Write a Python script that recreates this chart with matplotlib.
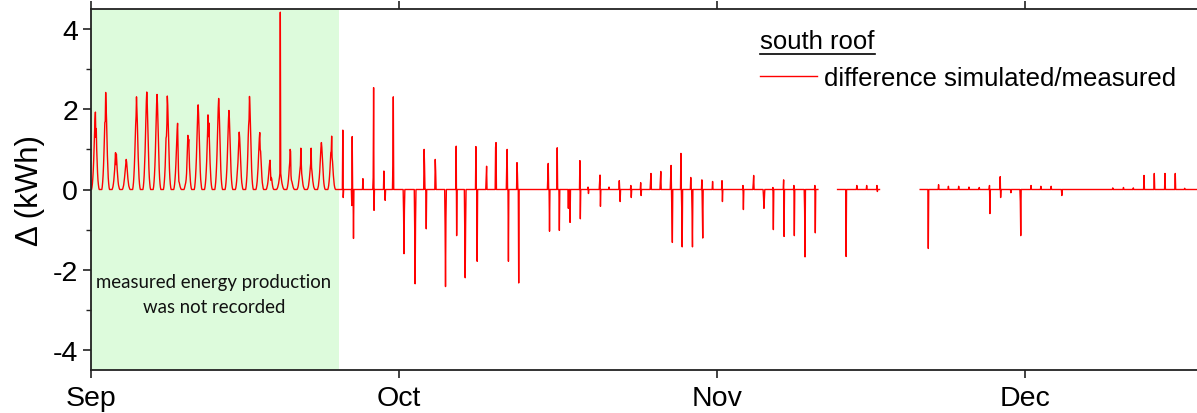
import numpy as np
import pandas as pd
import matplotlib
matplotlib.use("Agg")
import matplotlib.pyplot as plt
import matplotlib.dates as mdates
from matplotlib.lines import Line2D
from matplotlib.ticker import MultipleLocator

# ---------------- data ----------------
start_date = "2015-09-01"
n_days = 108
# hourly values from 02:00 to 20:00 for the first 24 days (Sep 1 - Sep 24)
bell_first_hour = 2
bell_days = [
    [0, 0.06, 0.15, 0.29, 0.48, 0.73, 1.06, 1.45, 1.74, 1.93, 1.30, 1.52, 1.00, 0.68, 0.42, 0.23, 0.12, 0.04, 0],
    [0, 0.07, 0.19, 0.36, 0.60, 0.92, 1.33, 1.67, 1.70, 2.42, 2.10, 1.74, 1.26, 0.85, 0.53, 0.29, 0.15, 0.05, 0],
    [0, 0.03, 0.07, 0.14, 0.23, 0.35, 0.50, 0.69, 0.92, 0.62, 0.88, 0.66, 0.48, 0.32, 0.20, 0.11, 0.06, 0.02, 0],
    [0, 0.02, 0.06, 0.11, 0.19, 0.29, 0.41, 0.56, 0.68, 0.75, 0.68, 0.54, 0.39, 0.26, 0.17, 0.09, 0.05, 0.02, 0],
    [0, 0.07, 0.18, 0.35, 0.58, 0.88, 1.27, 1.60, 1.83, 2.31, 2.00, 1.66, 1.20, 0.81, 0.51, 0.28, 0.14, 0.05, 0],
    [0, 0.07, 0.19, 0.36, 0.61, 0.92, 1.34, 1.82, 2.19, 2.43, 2.19, 1.75, 1.26, 0.85, 0.53, 0.29, 0.15, 0.05, 0],
    [0, 0.07, 0.19, 0.36, 0.59, 0.90, 1.30, 1.78, 2.13, 2.37, 2.13, 1.71, 1.23, 0.83, 0.52, 0.28, 0.14, 0.05, 0],
    [0, 0.07, 0.19, 0.35, 0.58, 0.89, 1.28, 1.33, 1.63, 2.33, 2.10, 1.68, 1.21, 0.82, 0.51, 0.28, 0.14, 0.05, 0],
    [0, 0.05, 0.13, 0.25, 0.41, 0.63, 0.91, 1.24, 1.49, 1.65, 1.10, 0.50, 0.20, 0.17, 0.12, 0.07, 0.04, 0.01, 0],
    [0, 0.03, 0.08, 0.12, 0.17, 0.25, 0.40, 0.70, 1.00, 1.35, 1.10, 1.25, 0.85, 0.55, 0.35, 0.20, 0.10, 0.03, 0],
    [0, 0.06, 0.17, 0.32, 0.53, 0.80, 1.16, 1.58, 1.90, 2.11, 1.90, 1.52, 1.10, 0.74, 0.46, 0.25, 0.13, 0.04, 0],
    [0, 0.06, 0.15, 0.28, 0.47, 0.71, 1.02, 1.40, 1.86, 1.32, 1.66, 1.30, 0.95, 0.65, 0.41, 0.22, 0.11, 0.04, 0],
    [0, 0.07, 0.18, 0.34, 0.57, 0.86, 1.25, 1.70, 2.04, 2.27, 2.04, 1.63, 1.18, 0.79, 0.50, 0.27, 0.14, 0.05, 0],
    [0, 0.06, 0.16, 0.30, 0.49, 0.75, 1.08, 1.48, 1.77, 1.97, 1.77, 1.42, 1.02, 0.69, 0.43, 0.24, 0.12, 0.04, 0],
    [0, 0.04, 0.11, 0.21, 0.36, 0.54, 0.67, 0.97, 1.20, 1.43, 1.29, 1.03, 0.74, 0.50, 0.31, 0.17, 0.09, 0.03, 0],
    [0, 0.07, 0.19, 0.35, 0.58, 0.88, 1.30, 1.60, 1.75, 2.32, 2.09, 1.67, 1.21, 0.81, 0.51, 0.28, 0.14, 0.05, 0],
    [0, 0.04, 0.11, 0.21, 0.36, 0.54, 0.78, 1.07, 1.28, 1.42, 1.00, 0.95, 0.74, 0.50, 0.31, 0.17, 0.09, 0.03, 0],
    [0, 0.02, 0.06, 0.11, 0.18, 0.28, 0.40, 0.55, 0.66, 0.73, 0.45, 0.23, 0.30, 0.26, 0.16, 0.09, 0.04, 0.01, 0],
    [0, 0.01, 0.03, 0.06, 0.10, 0.15, 0.22, 0.30, 0.40, 4.42, 0.40, 0.30, 0.22, 0.15, 0.10, 0.06, 0.03, 0.01, 0],
    [0, 0.03, 0.08, 0.15, 0.25, 0.38, 0.55, 0.67, 1.00, 0.95, 0.35, 0.23, 0.20, 0.15, 0.10, 0.06, 0.03, 0.01, 0],
    [0, 0.02, 0.05, 0.10, 0.18, 0.28, 0.40, 0.50, 0.60, 1.03, 0.65, 0.40, 0.30, 0.20, 0.12, 0.07, 0.04, 0.01, 0],
    [0, 0.02, 0.05, 0.10, 0.18, 0.28, 0.40, 0.55, 0.65, 1.03, 0.55, 0.45, 0.32, 0.21, 0.13, 0.07, 0.04, 0.01, 0],
    [0, 0.04, 0.09, 0.18, 0.29, 0.44, 0.64, 0.88, 1.05, 1.17, 1.05, 0.84, 0.61, 0.41, 0.26, 0.14, 0.07, 0.02, 0],
    [0, 0.04, 0.10, 0.20, 0.33, 0.50, 0.73, 0.92, 0.95, 1.33, 0.80, 0.70, 0.52, 0.35, 0.22, 0.12, 0.06, 0.02, 0],
]
# individual hourly differences after Sep 25 (day offset since Sep 1, kWh)
spike_day = [
    24.54, 24.60, 25.41, 25.47, 25.57, 26.48, 27.48, 27.52, 27.59, 28.56, 28.66,
    29.42, 29.46, 30.47, 30.51, 30.55, 31.54, 31.58, 31.62, 32.45, 32.49, 32.65,
    33.53, 33.57, 34.49, 34.53, 34.57, 35.57, 35.64, 36.41, 36.45, 36.49,
    37.52, 37.64, 38.52, 38.56, 39.42, 39.46, 40.52, 40.56, 40.66,
    41.48, 41.52, 41.67, 44.52, 44.56, 44.65, 45.43, 45.63, 46.50, 46.67,
    47.64, 47.68, 48.40, 48.45, 49.55, 49.59, 49.64, 50.46, 51.47, 51.54,
    52.57, 52.61, 53.55, 53.60, 54.52, 54.56, 55.46, 55.50,
    56.44, 56.48, 56.59, 56.63, 57.45, 57.56, 57.60, 58.42, 58.54, 58.58,
    59.49, 59.55, 59.59, 60.56, 61.44, 61.49, 63.49, 63.53, 64.48, 64.52,
    65.52, 65.56, 65.60, 66.43, 66.47, 67.44, 67.48, 68.44, 68.48,
    69.51, 69.55, 70.48, 70.52, 73.55, 74.59, 75.56, 76.54, 76.58,
    81.56, 82.53, 83.50, 84.48, 85.52, 86.52, 87.52, 87.56, 88.54, 88.60,
    89.58, 90.51, 90.55, 91.53, 92.50, 93.48, 94.55, 99.50, 100.55, 101.52,
    102.56, 103.56, 104.58, 105.58, 106.50,
]
spike_value = [
    1.48, -0.20, -0.40, 1.32, -1.22, 0.27, 0.30, 2.54, -0.52, 0.46, -0.27,
    0.60, 2.31, -0.58, -1.60, -0.50, -1.00, -2.35, -0.80, 1.00, 0.60, -0.98,
    0.75, 0.45, -0.90, -2.42, -0.70, 1.08, -1.15, -1.00, -2.20, -0.90,
    1.07, -1.79, 0.30, 0.58, 1.05, 1.17, 0.60, 1.00, -1.79,
    0.67, 0.40, -2.33, 0.30, 0.65, -1.04, 1.04, -1.02, -0.47, -0.82,
    0.72, -0.73, 0.06, -0.10, 0.20, 0.36, -0.42, 0.06, 0.22, -0.30,
    0.10, -0.20, 0.17, -0.15, 0.20, 0.40, 0.20, 0.45,
    0.30, 0.60, -0.50, -1.32, 0.90, -0.55, -1.43, 0.30, -0.55, -1.43,
    0.24, -0.50, -1.21, 0.20, 0.22, -0.30, 0.10, -0.50, 0.15, 0.35,
    -0.20, -0.47, -0.20, 0.05, -1.00, 0.24, -1.17, 0.10, -1.15,
    -0.50, -1.68, 0.10, -1.08, -1.67, 0.10, 0.10, 0.10, -0.05,
    -1.47, 0.12, 0.08, 0.08, 0.06, 0.05, 0.10, -0.60, 0.32, -0.20,
    -0.08, -0.30, -1.15, 0.10, 0.08, 0.08, -0.15, 0.04, 0.05, 0.04,
    0.35, 0.40, 0.40, 0.40, 0.03,
]
# missing data periods (day offsets since Sep 1)
gap_start_day = [70.85, 76.85]
gap_end_day = [72.70, 80.75]
# period without measured production (green area)
unrecorded_end_day = 24.15

series_label = "difference simulated/measured"
legend_title = "south roof"
note_text = "measured energy production\nwas not recorded"

# ---------------- build hourly series ----------------
t0 = pd.Timestamp(start_date)
times = pd.date_range(t0, periods=n_days * 24, freq="h")
vals = np.zeros(len(times))
for k, day_vals in enumerate(bell_days):
    for j, v in enumerate(day_vals):
        vals[k * 24 + bell_first_hour + j] = v
used = set()
for d, v in zip(spike_day, spike_value):
    idx = int(round(d * 24))
    while idx in used:
        idx += 1
    used.add(idx)
    vals[idx] = v
for gs, ge in zip(gap_start_day, gap_end_day):
    vals[int(round(gs * 24)):int(round(ge * 24))] = np.nan

# ---------------- plot ----------------
plt.rcParams["font.family"] = ["Liberation Sans", "DejaVu Sans"]
plt.rcParams["axes.unicode_minus"] = False
W, H = 1197, 414
fig = plt.figure(figsize=(W / 100, H / 100), dpi=100)
ax = fig.add_axes([90.7 / W, 1 - 371 / H, 1 - 90.7 / W, (371 - 10) / H])

ax.axvspan(t0, t0 + pd.Timedelta(days=unrecorded_end_day), color="#ddfbdc", lw=0, zorder=0)
line, = ax.plot(times, vals, color="#ff0000", lw=1.0, zorder=2)

ax.set_xlim(t0, t0 + pd.Timedelta(days=107.7))
ax.set_ylim(-4.5, 4.5)
ax.yaxis.set_major_locator(MultipleLocator(2))
ax.yaxis.set_minor_locator(MultipleLocator(1))
ax.xaxis.set_major_locator(mdates.MonthLocator())
ax.xaxis.set_major_formatter(mdates.DateFormatter("%b"))
ax.tick_params(axis="both", which="major", direction="out", length=6, width=1.2,
               labelsize=20.5, colors="#222222", labelcolor="black")
ax.tick_params(axis="y", which="minor", direction="out", length=3.5, width=1.0, colors="#222222")
ax.tick_params(axis="x", top=True, labeltop=False, pad=5)
ax.tick_params(axis="y", pad=3)
for s in ["left", "top", "bottom"]:
    ax.spines[s].set_linewidth(1.3)
    ax.spines[s].set_color("#222222")
ax.spines["right"].set_visible(False)
ax.set_ylabel("Δ (kWh)", fontsize=22.5)
ax.yaxis.set_label_coords((45 - 90.7) / (W - 90.7), 0.5)

ax.text(t0 + pd.Timedelta(days=unrecorded_end_day / 2 - 0.1), -2.6, note_text,
        ha="center", va="center", fontsize=13.4, family=["Lato", "DejaVu Sans"],
        linespacing=1.55, color="#111111")

leg = ax.legend([line], [series_label], title=legend_title, loc="upper left",
                bbox_to_anchor=(760 / W, 1 - 30 / H), bbox_transform=fig.transFigure,
                frameon=False, fontsize=18.5, title_fontsize=18.5, handlelength=2.2,
                handletextpad=0.3, borderpad=0, borderaxespad=0, alignment="left",
                labelspacing=0.5)
fig.canvas.draw()
tb = leg.get_title().get_window_extent()
inv = fig.transFigure.inverted()
(x0, y0), (x1, y1) = inv.transform([(tb.x0, tb.y0), (tb.x1, tb.y0)])
fig.add_artist(Line2D([x0, x1], [y0 - 0.002, y0 - 0.002], transform=fig.transFigure,
                      color="black", lw=1.2))

fig.savefig("out.png", dpi=100)
